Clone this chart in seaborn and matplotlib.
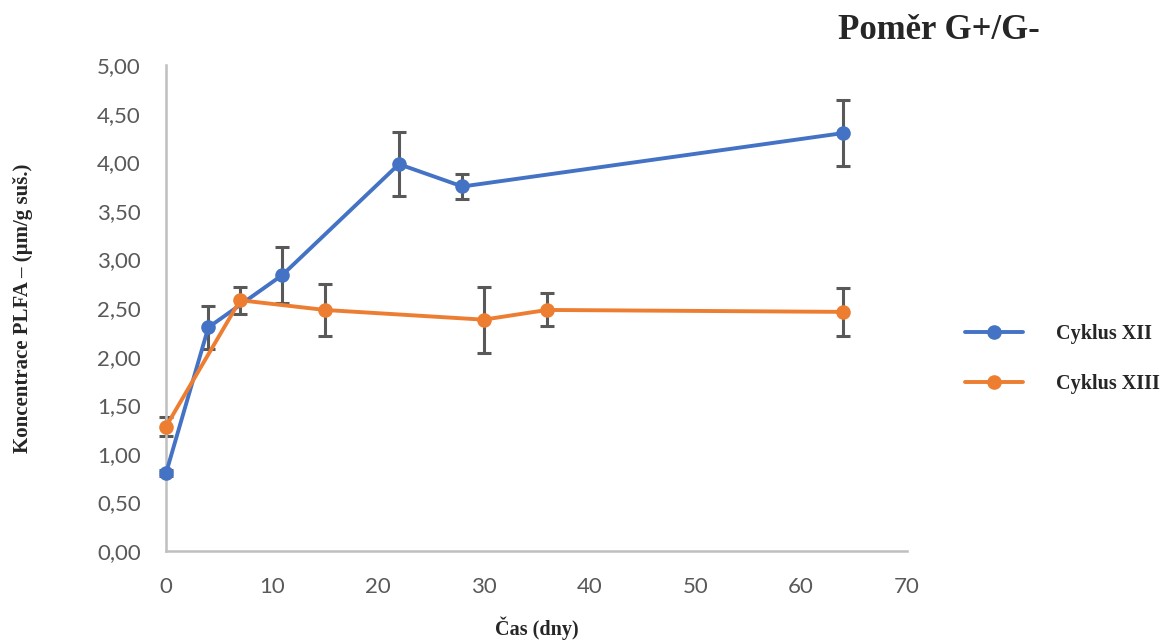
import numpy as np
import pandas as pd
import matplotlib
matplotlib.use("Agg")
import matplotlib.pyplot as plt
from matplotlib.ticker import FuncFormatter, MultipleLocator
from matplotlib.lines import Line2D
import seaborn as sns

# Measured G+/G- ratio over time for two cycles
days_xii = [0, 4, 11, 22, 28, 64]
ratio_xii = [0.80, 2.30, 2.84, 3.98, 3.75, 4.30]
err_xii = [0.03, 0.22, 0.29, 0.33, 0.13, 0.34]

days_xiii = [0, 7, 15, 30, 36, 64]
ratio_xiii = [1.28, 2.58, 2.48, 2.38, 2.48, 2.46]
err_xiii = [0.10, 0.14, 0.27, 0.34, 0.17, 0.245]

series_names = ["Cyklus XII", "Cyklus XIII"]
colors = ["#4472C4", "#ED7D31"]

df = pd.concat([
    pd.DataFrame({"den": days_xii, "pomer": ratio_xii, "err": err_xii, "serie": series_names[0]}),
    pd.DataFrame({"den": days_xiii, "pomer": ratio_xiii, "err": err_xiii, "serie": series_names[1]}),
], ignore_index=True)

sns.set_theme(style="white")
plt.rcParams["font.family"] = ["Lato", "DejaVu Sans"]

fig = plt.figure(figsize=(11.64, 6.41), dpi=100)
ax = fig.add_axes([0.1426, 0.1404, 0.6366, 0.7582])

palette = dict(zip(series_names, colors))
sns.lineplot(data=df, x="den", y="pomer", hue="serie", palette=palette,
             marker="o", markersize=10.5, markeredgewidth=0, linewidth=2.8,
             ax=ax, legend=False, zorder=3)
for artist in ax.lines:
    artist.set_clip_on(False)

# error bars drawn from the same values
for name in series_names:
    sub = df[df["serie"] == name]
    eb = ax.errorbar(sub["den"], sub["pomer"], yerr=sub["err"], fmt="none",
                     ecolor="#595959", elinewidth=2.2, capsize=5, capthick=2.2, zorder=2)
    for child in eb.get_children():
        child.set_clip_on(False)

ax.set_xlim(0, 70)
ax.set_ylim(0, 5)
ax.xaxis.set_major_locator(MultipleLocator(10))
ax.yaxis.set_major_locator(MultipleLocator(0.5))
ax.yaxis.set_major_formatter(FuncFormatter(lambda v, p: f"{v:.2f}".replace(".", ",")))
ax.tick_params(axis="both", length=0, labelsize=16, labelcolor="#595959")
ax.tick_params(axis="x", pad=19)
ax.tick_params(axis="y", pad=18)

for side in ["top", "right"]:
    ax.spines[side].set_visible(False)
for side in ["left", "bottom"]:
    ax.spines[side].set_color("#BFBFBF")
    ax.spines[side].set_linewidth(1.8)
ax.grid(False)

serif_bold = dict(family="Liberation Serif", weight="bold")
ax.set_xlabel("Čas (dny)", fontsize=14.5, **serif_bold)
ax.xaxis.set_label_coords(0.5, -0.135)
ax.set_ylabel("Koncentrace PLFA – (µm/g suš.)", fontsize=15, **serif_bold)
ax.yaxis.set_label_coords(-0.18, 0.5)

fig.text(0.72, 0.953, "Poměr G+/G-", fontsize=25, ha="left", va="center", **serif_bold)

handles = [Line2D([0], [0], color=c, marker="o", markersize=10.5, markeredgewidth=0, linewidth=2.8)
           for c in colors]
fig.legend(handles, series_names, loc="center left", bbox_to_anchor=(0.829, 0.44),
           frameon=False, borderaxespad=0, borderpad=0,
           handlelength=2.9, handletextpad=1.6, labelspacing=1.45,
           prop=dict(family="Liberation Serif", weight="bold", size=14.5))

fig.savefig("out.png", dpi=100)
